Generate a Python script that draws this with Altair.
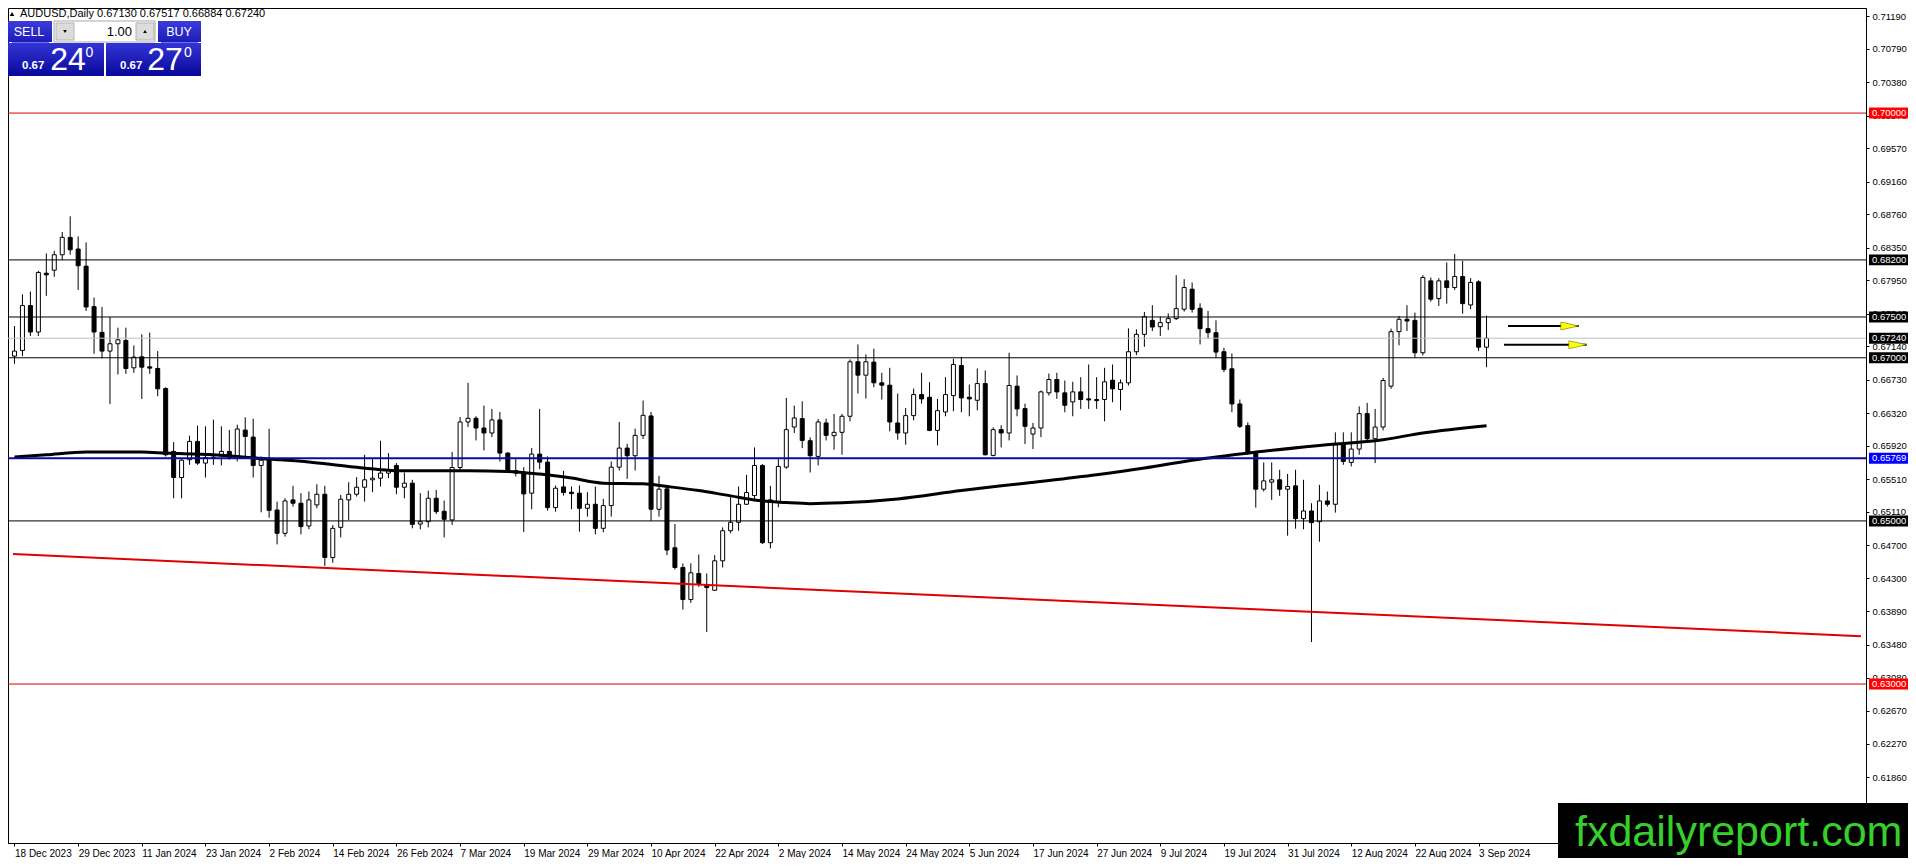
import altair as alt
import pandas as pd

# ------------------------------------------------------------------ data
date_labels = ["18 Dec 2023", "29 Dec 2023", "11 Jan 2024", "23 Jan 2024", "2 Feb 2024",
               "14 Feb 2024", "26 Feb 2024", "7 Mar 2024", "19 Mar 2024", "29 Mar 2024",
               "10 Apr 2024", "22 Apr 2024", "2 May 2024", "14 May 2024", "24 May 2024",
               "5 Jun 2024", "17 Jun 2024", "27 Jun 2024", "9 Jul 2024", "19 Jul 2024",
               "31 Jul 2024", "12 Aug 2024", "22 Aug 2024", "3 Sep 2024"]
bars_per_label = 8

opens = [0.67020, 0.67090, 0.67640, 0.67316, 0.68037, 0.68074, 0.68263, 0.68476, 0.68333, 0.68123,
         0.67627, 0.67312, 0.67082, 0.67172, 0.67213, 0.66877, 0.67012, 0.66889, 0.66869, 0.66623,
         0.65852, 0.65532, 0.65750, 0.65975, 0.65709, 0.65778, 0.65803, 0.65852, 0.65782, 0.66114,
         0.66028, 0.65680, 0.65745, 0.65134, 0.64848, 0.65258, 0.65217, 0.64938, 0.65196, 0.65327,
         0.64552, 0.64921, 0.65258, 0.65327, 0.65413, 0.65504, 0.65524, 0.65586, 0.65680, 0.65413,
         0.65463, 0.64962, 0.64991, 0.65278, 0.65118, 0.65012, 0.65655, 0.66213, 0.66258, 0.66139,
         0.66078, 0.66238, 0.65832, 0.65618, 0.65598, 0.65340, 0.65819, 0.65721, 0.65163, 0.65417,
         0.65352, 0.65340, 0.65155, 0.65204, 0.64909, 0.65188, 0.65659, 0.65893, 0.65799, 0.66049,
         0.66287, 0.65143, 0.65393, 0.64671, 0.64429, 0.64036, 0.64356, 0.64220, 0.64150, 0.64511,
         0.64880, 0.64983, 0.65204, 0.65311, 0.65680, 0.64733, 0.65237, 0.65659, 0.66151, 0.66254,
         0.65983, 0.65791, 0.66201, 0.66045, 0.66086, 0.66283, 0.66951, 0.66787, 0.66947, 0.66693,
         0.66664, 0.66201, 0.66078, 0.66291, 0.66549, 0.66516, 0.66110, 0.66336, 0.66537, 0.66906,
         0.66516, 0.66479, 0.66684, 0.65803, 0.66119, 0.66078, 0.66652, 0.66377, 0.66065, 0.66139,
         0.66570, 0.66734, 0.66570, 0.66459, 0.66582, 0.66496, 0.66488, 0.66488, 0.66725, 0.66611,
         0.66693, 0.67074, 0.67287, 0.67459, 0.67381, 0.67431, 0.67480, 0.67595, 0.67841, 0.67607,
         0.67357, 0.67308, 0.67074, 0.66865, 0.66434, 0.66168, 0.65832, 0.65389, 0.65475, 0.65504,
         0.65389, 0.65430, 0.65028, 0.65122, 0.64991, 0.65245, 0.65204, 0.65946, 0.65717, 0.65881,
         0.66315, 0.66008, 0.66151, 0.66652, 0.67320, 0.67472, 0.67459, 0.67062, 0.67943, 0.67726,
         0.67943, 0.67861, 0.67996, 0.67648, 0.67931, 0.67130]
highs = [0.67389, 0.67779, 0.67812, 0.68066, 0.68279, 0.68312, 0.68542, 0.68734, 0.68488, 0.68415,
         0.67738, 0.67623, 0.67500, 0.67369, 0.67369, 0.67152, 0.67287, 0.67308, 0.67082, 0.66639,
         0.65967, 0.65770, 0.66045, 0.66168, 0.66160, 0.66242, 0.66160, 0.66114, 0.66180, 0.66270,
         0.66254, 0.65790, 0.66131, 0.65237, 0.65278, 0.65430, 0.65340, 0.65360, 0.65450, 0.65430,
         0.64950, 0.65319, 0.65475, 0.65536, 0.65811, 0.65770, 0.65983, 0.65832, 0.65709, 0.65594,
         0.65504, 0.65340, 0.65372, 0.65380, 0.65250, 0.65844, 0.66274, 0.66693, 0.66283, 0.66414,
         0.66373, 0.66336, 0.65840, 0.65770, 0.65659, 0.65893, 0.66373, 0.65791, 0.65434, 0.65614,
         0.65422, 0.65434, 0.65352, 0.65422, 0.65270, 0.65729, 0.66213, 0.65946, 0.66131, 0.66475,
         0.66336, 0.65553, 0.65442, 0.64962, 0.64479, 0.64479, 0.64589, 0.64356, 0.64581, 0.64921,
         0.65290, 0.65422, 0.65565, 0.65901, 0.65696, 0.65430, 0.65778, 0.66508, 0.66414, 0.66467,
         0.66024, 0.66250, 0.66254, 0.66311, 0.66311, 0.66980, 0.67164, 0.67041, 0.67111, 0.66816,
         0.66877, 0.66561, 0.66385, 0.66623, 0.66816, 0.66701, 0.66496, 0.66762, 0.66988, 0.67012,
         0.66672, 0.66869, 0.66844, 0.66147, 0.66172, 0.67062, 0.66783, 0.66438, 0.66201, 0.66598,
         0.66807, 0.66816, 0.66721, 0.66705, 0.66762, 0.66918, 0.66762, 0.66877, 0.66918, 0.66734,
         0.67361, 0.67349, 0.67562, 0.67644, 0.67504, 0.67545, 0.68013, 0.67964, 0.67923, 0.67668,
         0.67574, 0.67459, 0.67123, 0.67053, 0.66488, 0.66209, 0.65852, 0.65717, 0.65717, 0.65627,
         0.65577, 0.65627, 0.65504, 0.65217, 0.65442, 0.65360, 0.66086, 0.66086, 0.66086, 0.66405,
         0.66446, 0.66373, 0.66754, 0.67357, 0.67513, 0.67644, 0.67554, 0.68013, 0.67984, 0.67976,
         0.68169, 0.68271, 0.68189, 0.67976, 0.67951, 0.67517]
lows = [0.66926, 0.67020, 0.67267, 0.67267, 0.67759, 0.67992, 0.68197, 0.68263, 0.67832, 0.67574,
        0.67049, 0.66992, 0.66434, 0.66795, 0.66803, 0.66816, 0.66496, 0.66803, 0.66528, 0.65790,
        0.65278, 0.65278, 0.65688, 0.65688, 0.65532, 0.65688, 0.65680, 0.65750, 0.65729, 0.65782,
        0.65532, 0.65106, 0.65040, 0.64712, 0.64807, 0.65176, 0.64835, 0.64897, 0.65155, 0.64446,
        0.64487, 0.64798, 0.65012, 0.65299, 0.65237, 0.65352, 0.65422, 0.65524, 0.65327, 0.65278,
        0.64909, 0.64897, 0.64921, 0.65085, 0.64798, 0.64950, 0.65627, 0.66151, 0.65987, 0.65864,
        0.66028, 0.65729, 0.65598, 0.65545, 0.64865, 0.65143, 0.65635, 0.65126, 0.65114, 0.65311,
        0.65143, 0.64868, 0.65053, 0.64835, 0.64860, 0.65053, 0.65618, 0.65516, 0.65618, 0.66004,
        0.65000, 0.65053, 0.64581, 0.64405, 0.63913, 0.63995, 0.64192, 0.63638, 0.64142, 0.64429,
        0.64848, 0.64880, 0.65196, 0.65245, 0.64716, 0.64663, 0.65167, 0.65639, 0.66078, 0.65893,
        0.65594, 0.65680, 0.65987, 0.65873, 0.65811, 0.66221, 0.66561, 0.66500, 0.66639, 0.66488,
        0.66098, 0.65996, 0.65934, 0.66233, 0.66438, 0.66100, 0.65926, 0.66283, 0.66344, 0.66332,
        0.66283, 0.66356, 0.65803, 0.65791, 0.65901, 0.65987, 0.66283, 0.65942, 0.65881, 0.66028,
        0.66537, 0.66496, 0.66332, 0.66283, 0.66373, 0.66373, 0.66373, 0.66221, 0.66455, 0.66356,
        0.66660, 0.67033, 0.67135, 0.67328, 0.67267, 0.67340, 0.67463, 0.67566, 0.67554, 0.67164,
        0.67234, 0.67000, 0.66824, 0.66332, 0.66139, 0.65811, 0.65163, 0.65360, 0.65258, 0.65307,
        0.64819, 0.64905, 0.64897, 0.63515, 0.64745, 0.65176, 0.65102, 0.65688, 0.65668, 0.65811,
        0.65975, 0.65709, 0.66110, 0.66619, 0.67152, 0.67328, 0.67000, 0.67029, 0.67689, 0.67636,
        0.67664, 0.67832, 0.67541, 0.67595, 0.67082, 0.66884]
closes = [0.67082, 0.67640, 0.67316, 0.68046, 0.68017, 0.68263, 0.68476, 0.68324, 0.68128, 0.67623,
          0.67316, 0.67082, 0.67172, 0.67221, 0.66869, 0.67008, 0.66885, 0.66873, 0.66619, 0.65811,
          0.65532, 0.65745, 0.65975, 0.65709, 0.65778, 0.65782, 0.65852, 0.65770, 0.66127, 0.66036,
          0.65680, 0.65745, 0.65130, 0.64848, 0.65245, 0.65217, 0.64930, 0.65258, 0.65327, 0.64552,
          0.64909, 0.65266, 0.65327, 0.65413, 0.65504, 0.65524, 0.65586, 0.65618, 0.65413, 0.65463,
          0.64958, 0.64991, 0.65278, 0.65114, 0.65020, 0.65655, 0.66213, 0.66258, 0.66139, 0.66078,
          0.66238, 0.65832, 0.65618, 0.65586, 0.65331, 0.65819, 0.65721, 0.65163, 0.65401, 0.65348,
          0.65335, 0.65155, 0.65204, 0.64909, 0.65188, 0.65659, 0.65893, 0.65799, 0.66049, 0.66295,
          0.65143, 0.65389, 0.64643, 0.64429, 0.64036, 0.64364, 0.64233, 0.64183, 0.64511, 0.64880,
          0.64983, 0.65204, 0.65348, 0.65680, 0.64733, 0.65258, 0.65668, 0.66119, 0.66262, 0.65987,
          0.65799, 0.66213, 0.66049, 0.66086, 0.66283, 0.66951, 0.66787, 0.66951, 0.66693, 0.66664,
          0.66213, 0.66078, 0.66291, 0.66549, 0.66496, 0.66110, 0.66352, 0.66549, 0.66918, 0.66508,
          0.66496, 0.66684, 0.65811, 0.66119, 0.66078, 0.66660, 0.66373, 0.66160, 0.66139, 0.66582,
          0.66734, 0.66582, 0.66418, 0.66582, 0.66488, 0.66483, 0.66475, 0.66705, 0.66619, 0.66693,
          0.67074, 0.67287, 0.67504, 0.67377, 0.67431, 0.67480, 0.67603, 0.67861, 0.67595, 0.67357,
          0.67308, 0.67070, 0.66857, 0.66434, 0.66160, 0.65832, 0.65389, 0.65491, 0.65504, 0.65389,
          0.65422, 0.65028, 0.65122, 0.64979, 0.65245, 0.65204, 0.65934, 0.65729, 0.65881, 0.66315,
          0.66008, 0.66151, 0.66721, 0.67320, 0.67472, 0.67451, 0.67062, 0.67984, 0.67718, 0.67943,
          0.67861, 0.67996, 0.67664, 0.67923, 0.67130, 0.67240]

ma_index = [0, 4, 9, 16, 19, 25, 32, 37, 42, 49, 57, 62, 66, 70, 74, 79, 82, 86, 90, 94, 97,
            100, 104, 111, 119, 127, 136, 142, 148, 156, 164, 172, 177, 185]
ma_price = [0.65783, 0.65811, 0.65844, 0.65844, 0.65832, 0.65811, 0.65758, 0.65723, 0.65668,
            0.65615, 0.65615, 0.65607, 0.65574, 0.65525, 0.65463, 0.65455, 0.65422, 0.65373,
            0.65307, 0.65246, 0.65225, 0.65212, 0.65222, 0.65270, 0.65373, 0.65463, 0.65566,
            0.65648, 0.65745, 0.65844, 0.65926, 0.65996, 0.66078, 0.66168]

trend_index = [-0.1875, 232.0625]
trend_price = [0.64593, 0.63587]

black_levels = [0.68200, 0.67500, 0.67000, 0.65000]
red_levels = [0.70000, 0.63000]
blue_levels = [0.65769]
bid_levels = [0.67240]

axis_ticks = [0.71190, 0.70790, 0.70380, 0.69970, 0.69570, 0.69160, 0.68760, 0.68350,
              0.67950, 0.67540, 0.67140, 0.66730, 0.66320, 0.65920, 0.65510, 0.65110,
              0.64700, 0.64300, 0.63890, 0.63480, 0.63080, 0.62670, 0.62270, 0.61860]

arrow_start = [187.7, 187.2]
arrow_tip = [196.6, 197.6]
arrow_price = [0.6739, 0.6716]

header_text = "AUDUSD,Daily  0.67130 0.67517 0.66884 0.67240"
lot_text = "1.00"
sell_big, sell_small = "24", "0.67"
buy_big, buy_small = "27", "0.67"
watermark = "fxdailyreport.com"

# ------------------------------------------------------------------ tables
n = len(opens)
candles = pd.DataFrame({"i": list(range(n)), "open": opens, "high": highs,
                        "low": lows, "close": closes})
ma_df = pd.DataFrame({"i": ma_index, "p": ma_price})
trend_df = pd.DataFrame({"i": trend_index, "p": trend_price})
arrows_df = pd.DataFrame({"start": arrow_start, "tip": arrow_tip, "p": arrow_price})


def lv(vals):
    return pd.DataFrame({"p": vals})


# ------------------------------------------------------------------ scales / axes
W, H = 1858, 835
FONT = "Tahoma, 'Liberation Sans', Arial, sans-serif"
xs = alt.Scale(domain=[-0.1875, 232.0625], nice=False, zero=False)
ys = alt.Scale(domain=[0.610515, 0.712881], nice=False, zero=False)

label_expr = "[" + ",".join("'%s'" % s for s in date_labels) + "][round(datum.value / %d)]" % bars_per_label
x_axis = alt.Axis(values=[bars_per_label * k for k in range(len(date_labels))], labelExpr=label_expr,
                  orient="bottom", grid=False, title=None, tickSize=3, labelPadding=2,
                  labelAlign="left", labelFlush=False, labelOverlap=False,
                  labelFont=FONT, labelFontSize=10, labelColor="black",
                  domainColor="black", tickColor="black")
y_axis = alt.Axis(values=axis_ticks, format=".5f", orient="right", grid=False, title=None,
                  tickSize=3, labelPadding=3, labelFlush=False, labelOverlap=False,
                  labelFont=FONT, labelFontSize=9.5, labelColor="black", labelBaseline="middle",
                  domainColor="black", tickColor="black")


def X(f):
    return alt.X(f, type="quantitative", scale=xs, axis=x_axis)


def Y(f):
    return alt.Y(f, type="quantitative", scale=ys, axis=y_axis)


# ------------------------------------------------------------------ candles
wicks = alt.Chart(candles).mark_rule(color="black", strokeWidth=1).encode(
    x=X("i"), y=Y("low"), y2="high")
bodies = alt.Chart(candles).mark_bar(size=4, stroke="black", strokeWidth=1).encode(
    x=X("i"), y=Y("open"), y2="close",
    fill=alt.condition("datum.close >= datum.open", alt.value("white"), alt.value("black")))

ma_line = alt.Chart(ma_df).mark_line(color="black", strokeWidth=3, interpolate="monotone").encode(
    x=X("i"), y=Y("p"))

black_lines = alt.Chart(lv(black_levels)).mark_rule(color="black", strokeWidth=1).encode(y=Y("p"))
red_lines = alt.Chart(lv(red_levels)).mark_rule(color="#d40000", strokeWidth=1).encode(y=Y("p"))
blue_lines = alt.Chart(lv(blue_levels)).mark_rule(color="#0c0c9c", strokeWidth=2).encode(y=Y("p"))
bid_lines = alt.Chart(lv(bid_levels)).mark_rule(color="#c0c0c0", strokeWidth=1).encode(y=Y("p"))

trend = alt.Chart(trend_df).mark_line(color="#e00000", strokeWidth=2).encode(x=X("i"), y=Y("p"))

arrow_shaft = alt.Chart(arrows_df).mark_rule(color="black", strokeWidth=2).encode(
    x=X("start"), x2="tip", y=Y("p"))
arrow_head = alt.Chart(arrows_df).mark_point(
    shape="M-2,-0.44L0,0L-2,0.44Z", size=324, filled=True, fill="#ffff00",
    stroke="#707000", strokeWidth=0.6, opacity=1).encode(x=X("tip"), y=Y("p"))

# ------------------------------------------------------------------ price-axis tags
BOX = "M-1,-0.28L1,-0.28L1,0.28L-1,0.28Z"


def tags(vals, color):
    d = lv(vals)
    box = alt.Chart(d).mark_point(shape=BOX, size=1521, filled=True, fill=color,
                                  strokeWidth=0, opacity=1).encode(
        x=alt.value(W + 22.5), y=Y("p"))
    txt = alt.Chart(d).mark_text(align="left", baseline="middle", color="white",
                                 font=FONT, fontSize=9.5).encode(
        x=alt.value(W + 6), y=Y("p"), text=alt.Text("p:Q", format=".5f"))
    return [box, txt]


tag_layers = (tags(red_levels, "#ff0000") + tags(black_levels + bid_levels, "black")
              + tags(blue_levels, "#0000ff"))

# ------------------------------------------------------------------ trading panel / header / watermark
one = alt.Data(values=[{"k": 0}])
PANEL = alt.Gradient(gradient="linear", x1=0, x2=0, y1=0, y2=1,
                     stops=[alt.GradientStop(color="#3434d6", offset=0),
                            alt.GradientStop(color="#08089a", offset=1)])
LABEL = alt.Gradient(gradient="linear", x1=0, x2=0, y1=0, y2=1,
                     stops=[alt.GradientStop(color="#3c3cdc", offset=0),
                            alt.GradientStop(color="#1c1cb8", offset=1)])


def rect(x0, y0, x1, y1, fill, stroke=None):
    if stroke:
        m = alt.Chart(one).mark_rect(fill=fill, stroke=stroke, strokeWidth=1)
    else:
        m = alt.Chart(one).mark_rect(fill=fill)
    return m.encode(x=alt.value(x0), x2=alt.value(x1), y=alt.value(y0), y2=alt.value(y1))


def text(x, y, s, size, color, align="left", weight="normal", font=FONT, baseline="middle"):
    return alt.Chart(one).mark_text(text=s, fontSize=size, color=color, align=align,
                                    fontWeight=weight, font=font, baseline=baseline).encode(
        x=alt.value(x), y=alt.value(y))


deco = [
    alt.Chart(one).mark_point(shape="triangle-up", size=22, filled=True, color="black",
                              opacity=1).encode(x=alt.value(4), y=alt.value(6)),
    text(12, 6, header_text, 11, "black"),
    rect(0, 13, 44, 34, LABEL),
    rect(150, 13, 193, 34, LABEL),
    rect(46, 13, 147, 34, "white", "#a8a8a8"),
    rect(48, 15, 66, 32, "#dcdcdc", "#b4b4b4"),
    rect(128, 15, 146, 32, "#dcdcdc", "#b4b4b4"),
    alt.Chart(one).mark_point(shape="triangle-down", size=14, filled=True, color="black",
                              opacity=1).encode(x=alt.value(57), y=alt.value(23.5)),
    alt.Chart(one).mark_point(shape="triangle-up", size=14, filled=True, color="black",
                              opacity=1).encode(x=alt.value(137), y=alt.value(23.5)),
    text(124, 24, lot_text, 13, "black", align="right"),
    text(21, 24, "SELL", 12.5, "white", align="center"),
    text(171, 24, "BUY", 12.5, "white", align="center"),
    rect(4, 34, 41, 35, "#7070e8"),
    rect(153, 34, 190, 35, "#7070e8"),
    rect(0, 35, 96, 68, PANEL),
    rect(98, 35, 193, 68, PANEL),
    text(14, 58, sell_small, 11.5, "white", weight="bold"),
    text(60, 52, sell_big, 32, "white", align="center", font="'Liberation Sans', Arial"),
    text(81.5, 45, "0", 14, "white", align="center", font="'Liberation Sans', Arial"),
    text(112, 58, buy_small, 11.5, "white", weight="bold"),
    text(157, 52, buy_big, 32, "white", align="center", font="'Liberation Sans', Arial"),
    text(180, 45, "0", 14, "white", align="center", font="'Liberation Sans', Arial"),
    rect(1550, 795, 1900, 850, "black"),
    text(1567, 838, watermark, 43, "#36d02c", font="'Liberation Sans', Arial",
         baseline="alphabetic"),
]

layers = [wicks, bodies, ma_line, bid_lines, black_lines, red_lines, blue_lines, trend,
          arrow_shaft, arrow_head] + tag_layers + deco

chart = alt.layer(*layers).properties(
    width=W, height=H,
    autosize=alt.AutoSizeParams(type="none"),
    padding={"left": 0, "top": 0, "right": 42, "bottom": 15},
    background="white",
).configure_view(stroke="black", strokeWidth=1)

chart.save("out.html", embed_options={"renderer": "svg", "actions": False})
